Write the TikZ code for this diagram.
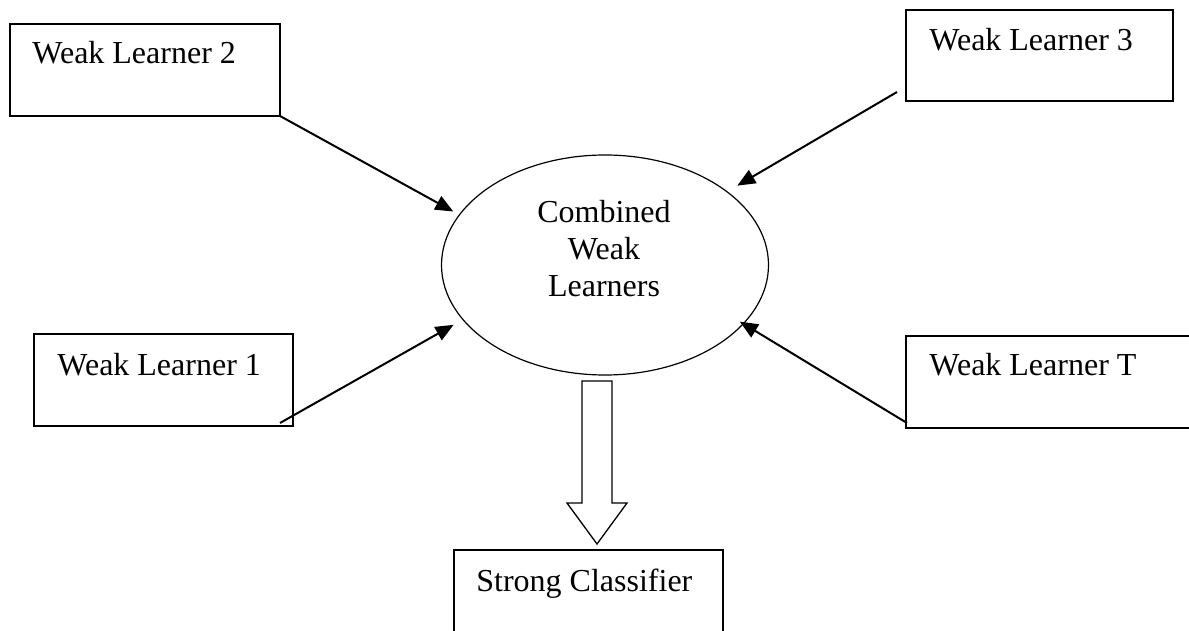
\documentclass[tikz,border=0pt]{standalone}
\usepackage{fontspec}
\setmainfont{Liberation Serif}
\usetikzlibrary{arrows.meta,calc,shapes.geometric}
\begin{document}
\begin{tikzpicture}[x=0.5pt,y=-0.5pt,
  box/.style={draw,line width=0.8pt,rectangle,anchor=north west,inner sep=0pt,outer sep=0pt},
  lbl/.style={anchor=base west,inner sep=0pt,font=\fontsize{16}{18.5}\selectfont},
  feed/.style={line width=1pt,-{Triangle[length=9pt,width=7.5pt]}}]
\useasboundingbox (0,0) rectangle (1189,631);
\clip (0,0) rectangle (1189,631);
% weak learner boxes
\node[box,minimum width=135pt,minimum height=46pt] (b2) at (10,24) {};
\node[box,minimum width=133.5pt,minimum height=45.5pt] (b3) at (906,10) {};
\node[box,minimum width=129.5pt,minimum height=46pt] (b1) at (34,334) {};
\node[box,minimum width=150pt,minimum height=46pt] (b4) at (906,336) {};
\node[box,minimum width=134.5pt,minimum height=50pt] (bs) at (454,550) {};
\node[lbl] (t2) at (32,64) {Weak Learner 2};
\node[lbl] (t3) at (929,51) {Weak Learner 3};
\node[lbl] (t1) at (57,375) {Weak Learner 1};
\node[lbl] (t4) at (929,375) {Weak Learner T};
\node[lbl] (ts) at (476,591) {Strong Classifier};
% combined ellipse
\node[draw,ellipse,line width=0.6pt,minimum width=163.5pt,minimum height=110pt,inner sep=0pt,outer sep=0pt] (comb) at (605,265) {};
\node[align=center,inner sep=0pt,font=\fontsize{16}{18.5}\selectfont] (ct) at (604,249) {Combined\\Weak\\Learners};
% arrows
\draw[feed,shorten >=3.5pt] (b2.south east) -- (comb.161);
\draw[feed,shorten >=6pt] ($(b3.south west)+(-9,-9)$) -- (comb.31);
\draw[feed,shorten >=5.4pt] ($(b1.south east)+(-13,-3)$) -- (comb.201);
\draw[feed,shorten >=-2pt] ($(b4.south west)+(1,-5)$) -- (comb.337.6);
% block arrow
\draw[line width=0.65pt,line join=miter] (582,381) -- (612,381) -- (612,503) -- (627,503) -- (597,544) -- (567,503) -- (582,503) -- cycle;
\end{tikzpicture}
\end{document}
